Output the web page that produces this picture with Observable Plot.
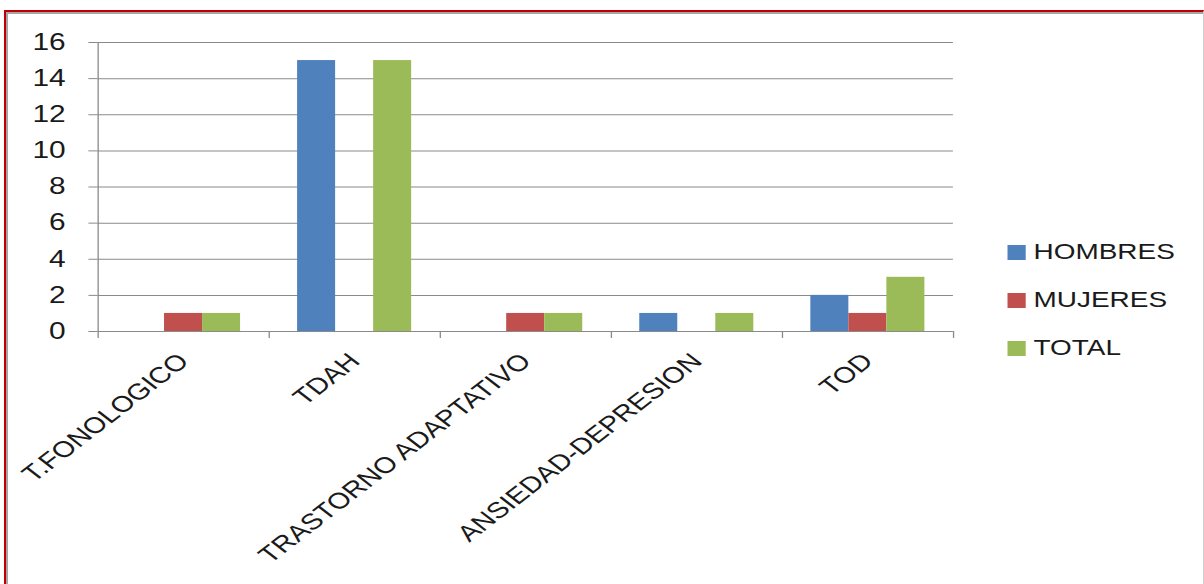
<!DOCTYPE html>
<html><head><meta charset="utf-8">
<script src="https://cdn.jsdelivr.net/npm/d3@7"></script>
<script src="https://cdn.jsdelivr.net/npm/@observablehq/plot@0.6"></script>
<style>
html,body{margin:0;padding:0;background:#fff;width:1204px;height:584px;overflow:hidden;}
#stage{position:relative;width:1204px;height:584px;overflow:hidden;}
#chart{position:absolute;left:0;top:0;width:926px;height:584px;transform:scaleX(1.3);transform-origin:0 0;}
#legend{position:absolute;left:775px;top:0;font-family:"Liberation Sans",Arial,sans-serif;font-size:21.5px;color:#1a1a1a;}
.item{position:absolute;left:0;display:flex;align-items:center;white-space:nowrap;height:24px;}
.sw{width:14px;height:15px;margin-right:6px;flex:none;}
#frame{position:absolute;left:4px;top:10px;right:0;bottom:-10px;border-top:2px solid #c00000;border-left:2px solid #c00000;border-right:1px solid #cfcfcf;box-shadow:inset 2px 2px 0 #a6a6a6;pointer-events:none;}
</style>
</head>
<body>
<div id="stage">
  <div id="chart"><div id="legend"></div></div>
  <div id="frame"></div>
</div>
<script>
const categories = ["T.FONOLOGICO", "TDAH", "TRASTORNO ADAPTATIVO", "ANSIEDAD-DEPRESION", "TOD"];
const seriesNames = ["HOMBRES", "MUJERES", "TOTAL"];
const seriesColors = ["#4F81BD", "#C0504D", "#9BBB59"];
const hombres = [0, 15, 0, 1, 2];
const mujeres = [1, 0, 1, 0, 1];
const total = [1, 15, 1, 1, 3];
const yTicks = [0, 2, 4, 6, 8, 10, 12, 14, 16];

const seriesValues = [hombres, mujeres, total];
// each category occupies one unit on x; the three bars fill its middle two thirds
const groupShare = 2 / 3;
const barShare = groupShare / seriesNames.length;
const data = categories.flatMap((cat, i) =>
  seriesNames.map((serie, j) => ({
    cat, serie, value: seriesValues[j][i],
    x1: i + (1 - groupShare) / 2 + j * barShare,
    x2: i + (1 - groupShare) / 2 + (j + 1) * barShare
  }))
);
const boundaries = d3.range(categories.length + 1);
const centers = categories.map((c, i) => i + 0.5);

const gridColor = "#8a8a8a";

const chart = Plot.plot({
  width: 926,
  height: 584,
  marginLeft: 75,
  marginRight: 193,
  marginTop: 42,
  marginBottom: 253,
  style: {fontFamily: "'Liberation Sans', Arial, sans-serif", fontSize: "22px", color: "#1a1a1a", background: "transparent"},
  x: {domain: [0, categories.length], label: null},
  y: {domain: [0, 16], label: null},
  color: {domain: seriesNames, range: seriesColors},
  marks: [
    Plot.gridY(yTicks, {stroke: gridColor, strokeOpacity: 1}),
    Plot.rectY(data.filter(d => d.value > 0), {x1: "x1", x2: "x2", y1: 0, y2: "value", fill: "serie"}),
    Plot.ruleX([0], {y1: 0, y2: 16, stroke: gridColor}),
    Plot.axisY({ticks: yTicks, tickSize: 7, tickPadding: 18, stroke: gridColor, fontSize: 23, label: null}),
    Plot.axisX({ticks: boundaries, tickSize: 7, tickFormat: () => "", stroke: gridColor, label: null}),
    Plot.axisX({ticks: centers, tickSize: 0, tickPadding: 26, tickRotate: -45, fontSize: 22.5, tickFormat: d => categories[Math.floor(d)], label: null})
  ]
});
document.getElementById("chart").prepend(chart);

const legend = document.getElementById("legend");
seriesNames.forEach((name, i) => {
  const item = document.createElement("div");
  item.className = "item";
  item.style.top = (240 + i * 48) + "px";
  const sw = document.createElement("div");
  sw.className = "sw";
  sw.style.background = seriesColors[i];
  const label = document.createElement("span");
  label.textContent = name;
  item.append(sw, label);
  legend.append(item);
});
</script>
</body></html>
